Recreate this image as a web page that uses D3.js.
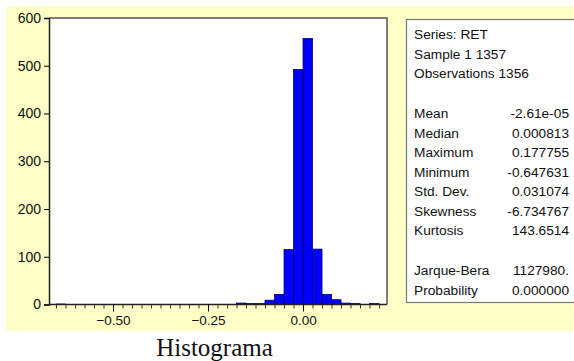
<!DOCTYPE html>
<html><head><meta charset="utf-8">
<script src="https://cdn.jsdelivr.net/npm/d3@7"></script>
<style>body{margin:0;background:#fff}svg{display:block}</style>
</head><body>
<script>
const binStarts = [-0.65,-0.175,-0.15,-0.125,-0.1,-0.075,-0.05,-0.025,0,0.025,0.05,0.075,0.1,0.125,0.15,0.175];
const counts    = [1,3,2,2,9,21,115,492,557,116,21,10,3,2,0,2];
const binWidth = 0.025;
const yTicks = [0,100,200,300,400,500,600];
const xTickLabels = [-0.50,-0.25,0.00];
const statLabels = ["Mean","Median","Maximum","Minimum","Std. Dev.","Skewness","Kurtosis"];
const statValues = ["-2.61e-05","0.000813","0.177755","-0.647631","0.031074","-6.734767","143.6514"];
const testLabels = ["Jarque-Bera","Probability"];
const testValues = ["1127980.","0.000000"];
const headerLines = ["Series: RET","Sample 1 1357","Observations 1356"];

const W=574,H=361;
const svg=d3.select("body").append("svg").attr("width",W).attr("height",H);
svg.append("rect").attr("x",6).attr("y",6).attr("width",W-6).attr("height",325).attr("fill","#FFFFC6");

const x=d3.scaleLinear().domain([-0.6685,0.221]).range([49,387]);
const y=d3.scaleLinear().domain([0,600]).range([304.5,18]);

svg.append("rect").attr("x",49).attr("y",18).attr("width",338).attr("height",286.5).attr("fill","#fff");

// bars
svg.append("g").selectAll("rect").data(binStarts.map((b,i)=>({b,c:counts[i]})).filter(d=>d.c>0))
 .join("rect")
 .attr("x",d=>x(d.b)).attr("width",d=>x(d.b+binWidth)-x(d.b))
 .attr("y",d=>y(d.c)).attr("height",d=>y(0)-y(d.c))
 .attr("fill","#0000FF").attr("stroke","#00006a").attr("stroke-width",0.8);

// frame
svg.append("path").attr("d","M49,18H387V304.5").attr("fill","none").attr("stroke","#555").attr("stroke-width",1.5);

// y axis
const ya=d3.axisLeft(y).tickValues(yTicks).tickSize(5).tickPadding(3).tickFormat(d3.format("d"));
const yg=svg.append("g").attr("transform","translate(49,0)").call(ya);
yg.select(".domain").attr("stroke","#222").attr("stroke-width",1.5);
yg.selectAll("text").attr("font-family","Arial, Liberation Sans, sans-serif").attr("font-size",14).attr("fill","#111");

// x axis minor ticks
const minor=d3.range(0,35).map(i=>-0.65+i*0.025);
const xa=d3.axisBottom(x).tickValues(minor).tickSize(4).tickFormat("");
const xg=svg.append("g").attr("transform","translate(0,304.5)").call(xa);
xg.select(".domain").attr("stroke","#222").attr("stroke-width",1.5).attr("d","M49,0H387");
xg.selectAll(".tick line").attr("stroke","#333");
const xb=d3.axisBottom(x).tickValues(xTickLabels).tickSize(7).tickPadding(4).tickFormat(d3.format(".2f"));
const xg2=svg.append("g").attr("transform","translate(0,304.5)").call(xb);
xg2.select(".domain").remove();
xg2.selectAll("text").attr("font-family","Arial, Liberation Sans, sans-serif").attr("font-size",13.5).attr("fill","#111");

// stats box
svg.append("rect").attr("x",406.5).attr("y",19.5).attr("width",180).attr("height",283).attr("fill","#fff").attr("stroke","#777").attr("stroke-width",1.2);
const ff="Arial, Liberation Sans, sans-serif";
const tg=svg.append("g").attr("font-family",ff).attr("font-size",13.7).attr("fill","#111");
headerLines.forEach((t,i)=>tg.append("text").attr("x",414).attr("y",39+i*19.5).text(t));
statLabels.forEach((t,i)=>{
  tg.append("text").attr("x",414).attr("y",118+i*19.5).text(t);
  tg.append("text").attr("x",569).attr("y",118+i*19.5).attr("text-anchor","end").text(statValues[i]);
});
testLabels.forEach((t,i)=>{
  tg.append("text").attr("x",414).attr("y",275+i*19.5).text(t);
  tg.append("text").attr("x",569).attr("y",275+i*19.5).attr("text-anchor","end").text(testValues[i]);
});

svg.append("text").attr("x",214.5).attr("y",356).attr("text-anchor","middle")
 .attr("font-family","Times New Roman, Liberation Serif, serif").attr("font-size",25).attr("fill","#111").text("Histograma");
</script>
</body></html>
